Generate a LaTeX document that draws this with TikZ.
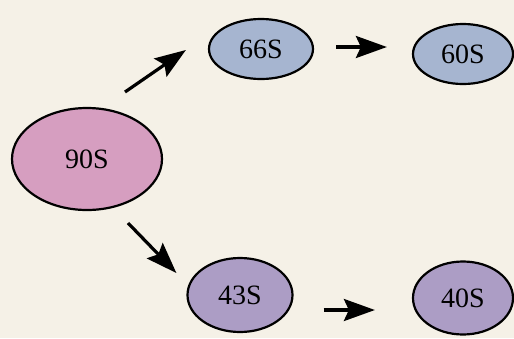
\documentclass[tikz,border=0pt]{standalone}
\usepackage{fontspec}
\setmainfont{Liberation Serif}
\usetikzlibrary{arrows.meta,calc,shapes.geometric}
\definecolor{paper}{RGB}{245,241,231}
\definecolor{pinkfill}{RGB}{214,158,192}
\definecolor{bluefill}{RGB}{166,181,208}
\definecolor{lilacfill}{RGB}{172,157,197}
\tikzset{
  blob/.style={ellipse, draw=black, line width=2.2pt, inner sep=0pt,
    font=\fontsize{28}{28}\selectfont},
  arr/.style={line width=3.2pt, -{Stealth[length=31pt,width=22pt,inset=5pt]}},
}
\begin{document}
\begin{tikzpicture}[x=1pt,y=-1pt]
  \fill[paper] (0,0) rectangle (514,338);
  \useasboundingbox (0,0) rectangle (514,338);

  \node[blob, fill=pinkfill, minimum width=150pt, minimum height=102pt] (n90) at (87,159) {90S};
  \node[blob, fill=bluefill, minimum width=104pt, minimum height=60pt] (n66) at (261,49) {66S};
  \node[blob, fill=bluefill, minimum width=100pt, minimum height=60pt] (n60) at (463,54) {60S};
  \node[blob, fill=lilacfill, minimum width=105pt, minimum height=74pt] (n43) at (240,295) {43S};
  \node[blob, fill=lilacfill, minimum width=100pt, minimum height=73pt] (n40) at (463,298) {40S};

  % free-standing arrow ends beside the ellipses
  \coordinate (a1s) at ($(n90)+(38,-67)$);
  \coordinate (a1e) at ($(n66.west)+(-22,1)$);
  \coordinate (a2s) at ($(n90)+(41,64)$);
  \coordinate (a2e) at ($(n43.west)+(-10,-22)$);
  \coordinate (a3s) at ($(n66.east)+(22,-2)$);
  \coordinate (a3e) at ($(n60.west)+(-25,-7)$);
  \coordinate (a4s) at ($(n43.east)+(30,15)$);
  \coordinate (a4e) at ($(n40.west)+(-37,12)$);

  \draw[arr] (a1s) -- (a1e);
  \draw[arr] (a2s) -- (a2e);
  \draw[arr] (a3s) -- (a3e);
  \draw[arr] (a4s) -- (a4e);
\end{tikzpicture}
\end{document}
